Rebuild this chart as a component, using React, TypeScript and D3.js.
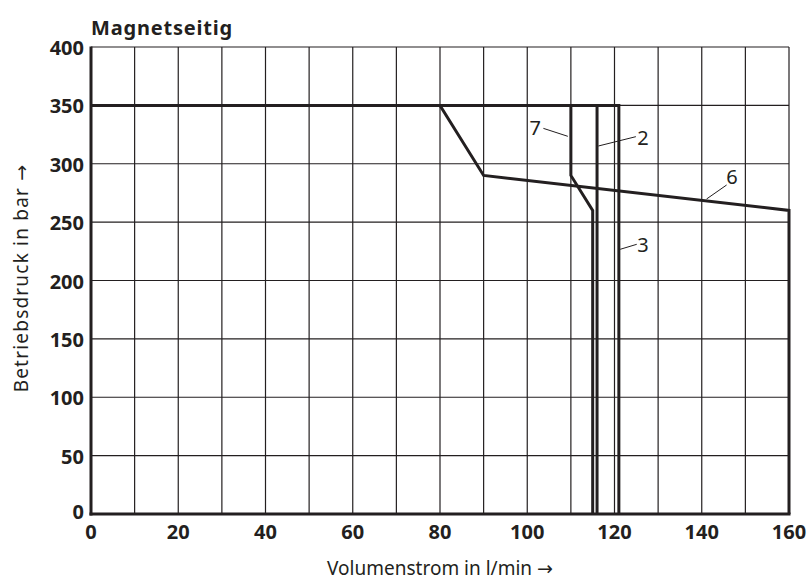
import React from 'react';
import * as d3 from 'd3';

// Volumenstrom (l/min) / Betriebsdruck (bar) per curve
const curveIds = ['6', '7', '2', '3'];
const flow6 = [0, 80, 90, 160, 160];
const press6 = [350, 350, 290, 260, 0];
const flow7 = [0, 110, 110, 115, 115];
const press7 = [350, 350, 290, 260, 0];
const flow2 = [0, 116, 116];
const press2 = [350, 350, 0];
const flow3 = [0, 121, 121];
const press3 = [350, 350, 0];

const xTicks = [0, 20, 40, 60, 80, 100, 120, 140, 160];
const xGrid = d3.range(0, 161, 10);
const yTicks = [0, 50, 100, 150, 200, 250, 300, 350, 400];

// label: text position + leader line (data units)
const labelText = ['7', '2', '3', '6'];
const labelX = [101.8, 125.2, 125.2, 145.6];
const labelY = [325, 316, 224, 282.5];
const leaderFrom = [[103.7, 330.3], [116.3, 315.2], [121.3, 226.7], [141.1, 269.8]];
const leaderTo = [[109.3, 323.5], [124.9, 323.2], [125.1, 231], [145.7, 281.8]];

const W = 807;
const H = 580;
const margin = { left: 91, right: 18, top: 47, bottom: 66 };

export default function App() {
  const x = d3.scaleLinear().domain([0, 160]).range([margin.left, W - margin.right]);
  const y = d3.scaleLinear().domain([0, 400]).range([H - margin.bottom, margin.top]);
  const line = d3.line<[number, number]>().x(d => x(d[0])).y(d => y(d[1]));

  const curves = [
    d3.zip(flow6, press6),
    d3.zip(flow7, press7),
    d3.zip(flow2, press2),
    d3.zip(flow3, press3),
  ] as [number, number][][];

  const font = '"Noto Sans", "Liberation Sans", sans-serif';
  const arrowFont = '"DejaVu Sans", sans-serif';
  const ink = '#231f20';

  return (
    <svg width={W} height={H} style={{ position: 'absolute', left: 0, top: 0 }} fontFamily={font}>
      <rect width={W} height={H} fill="#fff" />
      <text x={x(0)} y={35} fontSize={20} fontWeight="bold" letterSpacing={0.8} fill={ink}>Magnetseitig</text>

      {/* grid */}
      <g stroke={ink} strokeWidth={1.2}>
        {xGrid.map(v => (
          <line key={'gx' + v} x1={x(v)} x2={x(v)} y1={y(0)} y2={y(400)} />
        ))}
        {yTicks.map(v => (
          <line key={'gy' + v} x1={x(0)} x2={x(160)} y1={y(v)} y2={y(v)} />
        ))}
      </g>

      {/* axes */}
      <g stroke={ink} strokeWidth={3} fill="none">
        <line x1={x(0)} x2={x(0)} y1={y(0) + 1.5} y2={y(400) - 0.5} />
        <line x1={x(0) - 1.5} x2={x(160) + 1.5} y1={y(0)} y2={y(0)} />
      </g>

      {/* curves */}
      <g fill="none" stroke={ink} strokeWidth={3} strokeLinejoin="miter">
        {curves.map((c, i) => (
          <path key={curveIds[i]} d={line(c) ?? ''} />
        ))}
      </g>

      {/* curve labels */}
      <g>
        {labelText.map((t, i) => (
          <g key={'lab' + t}>
            <line
              x1={x(leaderFrom[i][0])} y1={y(leaderFrom[i][1])}
              x2={x(leaderTo[i][0])} y2={y(leaderTo[i][1])}
              stroke={ink} strokeWidth={1}
            />
            <text x={x(labelX[i])} y={y(labelY[i])} fontSize={20} fill={ink}
              textAnchor={t === '7' ? 'middle' : 'start'}>{t}</text>
          </g>
        ))}
      </g>

      {/* tick labels */}
      <g fontSize={20} fontWeight="bold" fill={ink}>
        {xTicks.map(v => (
          <text key={'xt' + v} x={x(v)} y={y(0) + 25} textAnchor="middle">{v}</text>
        ))}
        {yTicks.map(v => (
          <text key={'yt' + v} x={x(0) - 7} y={y(v) + (v === 0 ? 5 : 8)} textAnchor="end">{v}</text>
        ))}
      </g>

      {/* axis titles */}
      <text x={440} y={575} fontSize={19} textAnchor="middle" fill={ink}>
        Volumenstrom in l/min <tspan fontFamily={arrowFont}>→</tspan>
      </text>
      <text transform={`translate(28, 278) rotate(-90)`} fontSize={19} letterSpacing={1.2} textAnchor="middle" fill={ink}>
        Betriebsdruck in bar <tspan fontFamily={arrowFont}>→</tspan>
      </text>
    </svg>
  );
}
